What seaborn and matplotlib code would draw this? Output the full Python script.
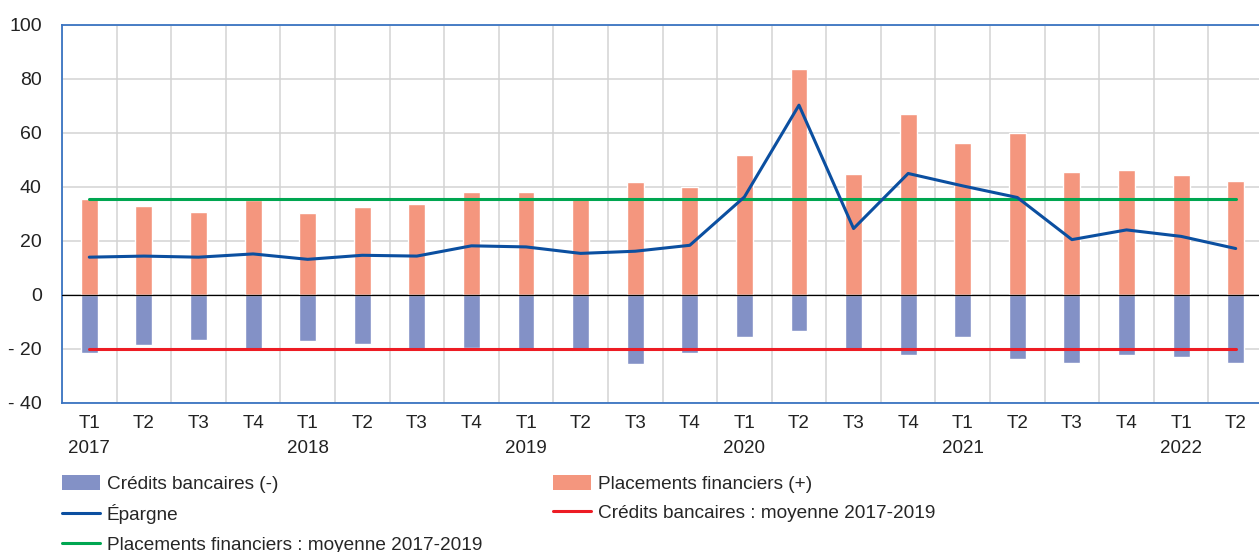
import numpy as np
import pandas as pd
import matplotlib
matplotlib.use("Agg")
import matplotlib.pyplot as plt
from matplotlib.patches import Patch
from matplotlib.lines import Line2D
import seaborn as sns

# Données (milliards d'euros)
trimestres = ["T1", "T2", "T3", "T4"] * 5 + ["T1", "T2"]
annees = ["2017", "2018", "2019", "2020", "2021", "2022"]
placements = [35.4, 32.8, 30.6, 34.9, 30.2, 32.4, 33.5, 38.0, 38.0, 36.1, 41.7,
              39.8, 51.7, 83.5, 44.6, 66.9, 56.1, 59.8, 45.4, 46.1, 44.3, 42.0]
credits = [-21.6, -18.7, -16.9, -20.2, -17.2, -18.3, -20.2, -19.9, -20.8, -20.8, -25.6,
           -21.6, -15.6, -13.4, -20.0, -22.3, -15.6, -23.8, -25.3, -22.3, -23.0, -25.3]
epargne = [13.9, 14.3, 13.9, 15.1, 13.1, 14.6, 14.3, 18.1, 17.7, 15.3, 16.1,
           18.3, 36.2, 70.2, 24.5, 44.9, 40.3, 36.0, 20.4, 24.0, 21.6, 17.1]
moy_placements = 35.3
moy_credits = -20.0

c_plac = "#F4967E"
c_cred = "#8391C6"
c_epar = "#0B4FA0"
c_vert = "#00A651"
c_rouge = "#ED1C24"
c_spine = "#3A74C2"

sns.set_theme(style="white")
plt.rcParams["font.family"] = ["Liberation Sans", "DejaVu Sans"]

n = len(trimestres)
labels = []
year_i = 0
for i, t in enumerate(trimestres):
    if t == "T1":
        labels.append(t + "\n" + annees[year_i])
        year_i += 1
    else:
        labels.append(t)
periodes = [f"{i:02d}" for i in range(n)]
df = pd.DataFrame({"periode": periodes, "placements": placements,
                   "credits": credits, "epargne": epargne})

fig = plt.figure(figsize=(12.59, 5.52), dpi=100)
ax = fig.add_axes([62 / 1259, 1 - 402.7 / 552, (1263 - 62) / 1259, (402.7 - 24.7) / 552])

sns.barplot(data=df, x="periode", y="placements", color=c_plac, width=0.31,
            saturation=1, ax=ax, zorder=2)
sns.barplot(data=df, x="periode", y="credits", color=c_cred, width=0.31,
            saturation=1, ax=ax, zorder=2)

xs = np.arange(n)
ax.plot(xs, np.full(n, moy_placements), color=c_vert, lw=2.2, zorder=3)
ax.plot(xs, np.full(n, moy_credits), color=c_rouge, lw=2.2, zorder=3)
sns.lineplot(x=xs, y=df["epargne"], color=c_epar, lw=2.2, ax=ax, zorder=4)
ax.axhline(0, color="black", lw=0.9, zorder=3)

ax.set_xlim(-0.5, n - 0.5)
ax.set_ylim(-40, 100)
ax.set_yticks(range(-40, 101, 20))
ax.set_yticklabels([f"- {abs(v)}" if v < 0 else str(v) for v in range(-40, 101, 20)],
                   fontsize=14, color="#222222")
ax.set_xticks(xs)
ax.set_xticklabels(labels, fontsize=13.5, color="#222222")
plt.setp(ax.get_xticklabels(), linespacing=1.62)
ax.set_xticks(np.arange(-0.5, n, 1), minor=True)
ax.tick_params(axis="both", which="both", length=0)
ax.tick_params(axis="y", pad=14.5)
ax.tick_params(axis="x", pad=8.5)
ax.grid(True, axis="y", which="major", color="#D3D3D3", lw=1.1, zorder=0)
ax.grid(True, axis="x", which="minor", color="#D3D3D3", lw=1.1, zorder=0)
ax.grid(False, axis="x", which="major")
ax.set_axisbelow(True)
ax.set_xlabel("")
ax.set_ylabel("")
for s in ["left", "top", "bottom"]:
    ax.spines[s].set_color(c_spine)
    ax.spines[s].set_linewidth(1.3)
ax.spines["right"].set_visible(False)

handles = [
    Patch(facecolor=c_cred, edgecolor="none"),
    Line2D([], [], color=c_epar, lw=2.2),
    Line2D([], [], color=c_vert, lw=2.2),
    Patch(facecolor=c_plac, edgecolor="none"),
    Line2D([], [], color=c_rouge, lw=2.2),
]
names = [
    "Crédits bancaires (-)",
    "Épargne",
    "Placements financiers : moyenne 2017-2019",
    "Placements financiers (+)",
    "Crédits bancaires : moyenne 2017-2019",
]
fig.legend(handles, names, ncol=2, loc="upper left", frameon=False,
           bbox_to_anchor=(58 / 1259, 1 - 471 / 552), fontsize=13.7,
           handlelength=2.0, handleheight=0.83, handletextpad=0.37,
           columnspacing=3.72, labelspacing=0.6, borderaxespad=0, borderpad=0.2)

fig.savefig("out.png", dpi=100)
